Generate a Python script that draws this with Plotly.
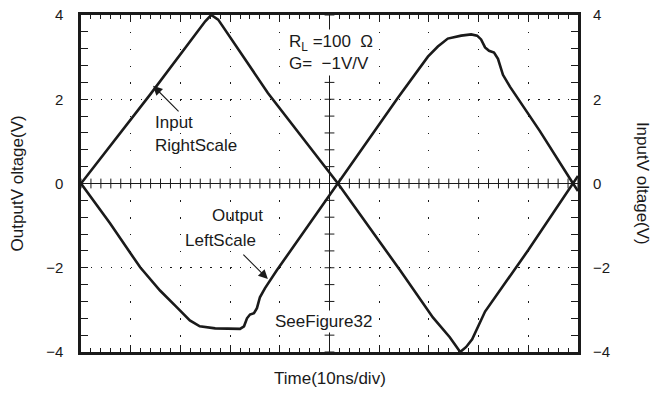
import numpy as np
import plotly.graph_objects as go

# Time axis in divisions (10 ns/div), voltages in volts
input_t = [0, 1.39, 2.50, 2.62, 2.76, 3.76, 5.17, 6.42, 7.08, 7.42, 7.63,
           7.75, 7.87, 8.03, 8.13, 9.00, 9.90, 10.0]
input_v = [0, 2.11, 3.85, 4.0, 3.89, 2.15, 0, -2.06, -3.18, -3.65, -4.0,
           -3.88, -3.70, -3.30, -3.04, -1.58, 0, 0.18]

output_t = [0, 0.58, 1.19, 1.59, 1.93, 2.19, 2.39, 2.70, 3.20, 3.28, 3.34,
            3.40, 3.48, 3.54, 3.60, 3.70, 3.94, 5.17, 6.38, 6.98, 7.18, 7.38,
            7.65, 7.85, 7.97, 8.05, 8.13, 8.21, 8.31, 8.39, 8.49, 8.63, 9.23,
            9.90, 10.0]
output_v = [0, -0.94, -1.99, -2.54, -2.94, -3.25, -3.39, -3.44, -3.45, -3.39,
            -3.20, -3.11, -3.08, -2.96, -2.70, -2.49, -2.06, 0, 2.04, 3.01,
            3.25, 3.44, 3.51, 3.54, 3.51, 3.42, 3.23, 3.15, 3.11, 2.96, 2.58,
            2.30, 1.25, 0, -0.18]

y_ticks = [-4, -2, 0, 2, 4]
x_divs = list(range(0, 11))

W, H = 658, 393
ML, MR, MT, MB = 81, 80, 15, 41
plot_w = W - ML - MR
plot_h = H - MT - MB

FONT = "Liberation Sans, Arial, sans-serif"
INK = "#1a1a1a"

# dotted-grid spacings: vertical grid dots every 0.4 V, horizontal every 0.2 div
v_step = plot_h * 0.4 / 8
h_step = plot_w * 0.2 / 10
dot = 1.4

fig = go.Figure()

# tick marks on the centre cross
xs = np.arange(0, 10.001, 0.2)
fig.add_trace(go.Scatter(x=xs, y=np.zeros_like(xs), mode="markers",
                         marker=dict(symbol="line-ns", size=7,
                                     line=dict(width=1, color=INK)),
                         hoverinfo="skip", showlegend=False))
ys = np.arange(-4, 4.001, 0.4)
fig.add_trace(go.Scatter(x=np.full_like(ys, 5.0), y=ys, mode="markers",
                         marker=dict(symbol="line-ew", size=7,
                                     line=dict(width=1, color=INK)),
                         hoverinfo="skip", showlegend=False))

fig.add_trace(go.Scatter(x=output_t, y=output_v, mode="lines",
                         line=dict(color=INK, width=2.6),
                         name="Output", showlegend=False))
fig.add_trace(go.Scatter(x=input_t, y=input_v, mode="lines", yaxis="y2",
                         line=dict(color=INK, width=2.6),
                         name="Input", showlegend=False))

# centre cross lines
fig.add_shape(type="line", x0=0, x1=10, y0=0, y1=0, xref="x", yref="y",
              line=dict(color=INK, width=1), layer="below")
fig.add_shape(type="line", x0=5, x1=5, y0=-4, y1=4, xref="x", yref="y",
              line=dict(color=INK, width=1), layer="below")

tick_font = dict(family=FONT, size=15, color=INK)
txt_font = dict(family=FONT, size=17, color=INK)
y_text = [f"{v}".replace("-", "\u2212") for v in y_ticks]

fig.update_layout(
    width=W, height=H,
    margin=dict(l=ML, r=MR, t=MT, b=MB, autoexpand=False),
    paper_bgcolor="white", plot_bgcolor="white",
    xaxis=dict(range=[0, 10], tickvals=x_divs, showticklabels=False,
               automargin=False,
               showgrid=True, gridcolor=INK, gridwidth=1.2,
               griddash=f"{dot}px,{v_step - dot}px",
               zeroline=False, showline=True, linecolor=INK, linewidth=2.5,
               mirror="ticks", ticks="inside", ticklen=7, tickwidth=1,
               tickcolor=INK,
               minor=dict(dtick=0.2, ticks="inside", ticklen=4,
                          tickwidth=1, tickcolor=INK, showgrid=False)),
    yaxis=dict(range=[-4, 4], tickvals=y_ticks, ticktext=y_text,
               tickfont=tick_font, ticklabelstandoff=12, automargin=False,
               showgrid=True, gridcolor=INK, gridwidth=1.2,
               griddash=f"{dot}px,{h_step - dot}px",
               zeroline=False, showline=True, linecolor=INK, linewidth=2.5,
               mirror="ticks", ticks="inside", ticklen=7, tickwidth=1,
               tickcolor=INK,
               minor=dict(dtick=0.4, ticks="inside", ticklen=7,
                          tickwidth=1, tickcolor=INK, showgrid=False)),
    yaxis2=dict(range=[-4, 4], tickvals=y_ticks, ticktext=y_text,
                tickfont=tick_font, ticklabelstandoff=14, automargin=False,
                overlaying="y", side="right", showgrid=False,
                zeroline=False, showline=False, ticks=""),
)

annotations = [
    dict(text="Time(10ns/div)", x=0.5, y=-0.08, xref="paper", yref="paper",
         xanchor="center", yanchor="middle", showarrow=False, font=txt_font),
    dict(text="OutputV oltage(V)", x=-0.127, y=0.5, xref="paper",
         yref="paper", xanchor="center", yanchor="middle", textangle=-90,
         showarrow=False, font=txt_font),
    dict(text="InputV oltage(V)", x=1.13, y=0.5, xref="paper", yref="paper",
         xanchor="center", yanchor="middle", textangle=90, showarrow=False,
         font=txt_font),
    dict(text="R<sub>L</sub> =100  \u03a9<br>G=  \u22121V/V", x=4.12, y=3.12,
         xanchor="left", yanchor="middle", align="left", showarrow=False,
         bgcolor="white", borderpad=2, font=txt_font),
    dict(text="Input", x=1.45, y=1.45, xanchor="left", yanchor="middle",
         showarrow=False, font=txt_font),
    dict(text="RightScale", x=1.45, y=0.9, xanchor="left", yanchor="middle",
         showarrow=False, font=txt_font),
    dict(text="Output", x=2.6, y=-0.75, xanchor="left", yanchor="middle",
         showarrow=False, font=txt_font),
    dict(text="LeftScale", x=2.06, y=-1.35, xanchor="left", yanchor="middle",
         showarrow=False, font=txt_font),
    dict(text="SeeFigure32", x=3.86, y=-3.27, xanchor="left",
         yanchor="middle", showarrow=False, bgcolor="white", borderpad=1,
         font=txt_font),
    # pointer arrows
    dict(text="", x=1.45, y=2.32, ax=27, ay=27, showarrow=True,
         arrowhead=2, arrowsize=1.7, arrowwidth=1.1, arrowcolor=INK),
    dict(text="", x=3.76, y=-2.27, ax=-26, ay=-26, showarrow=True,
         arrowhead=2, arrowsize=1.7, arrowwidth=1.1, arrowcolor=INK),
]
fig.update_layout(annotations=annotations)

fig.write_html("out.html")
